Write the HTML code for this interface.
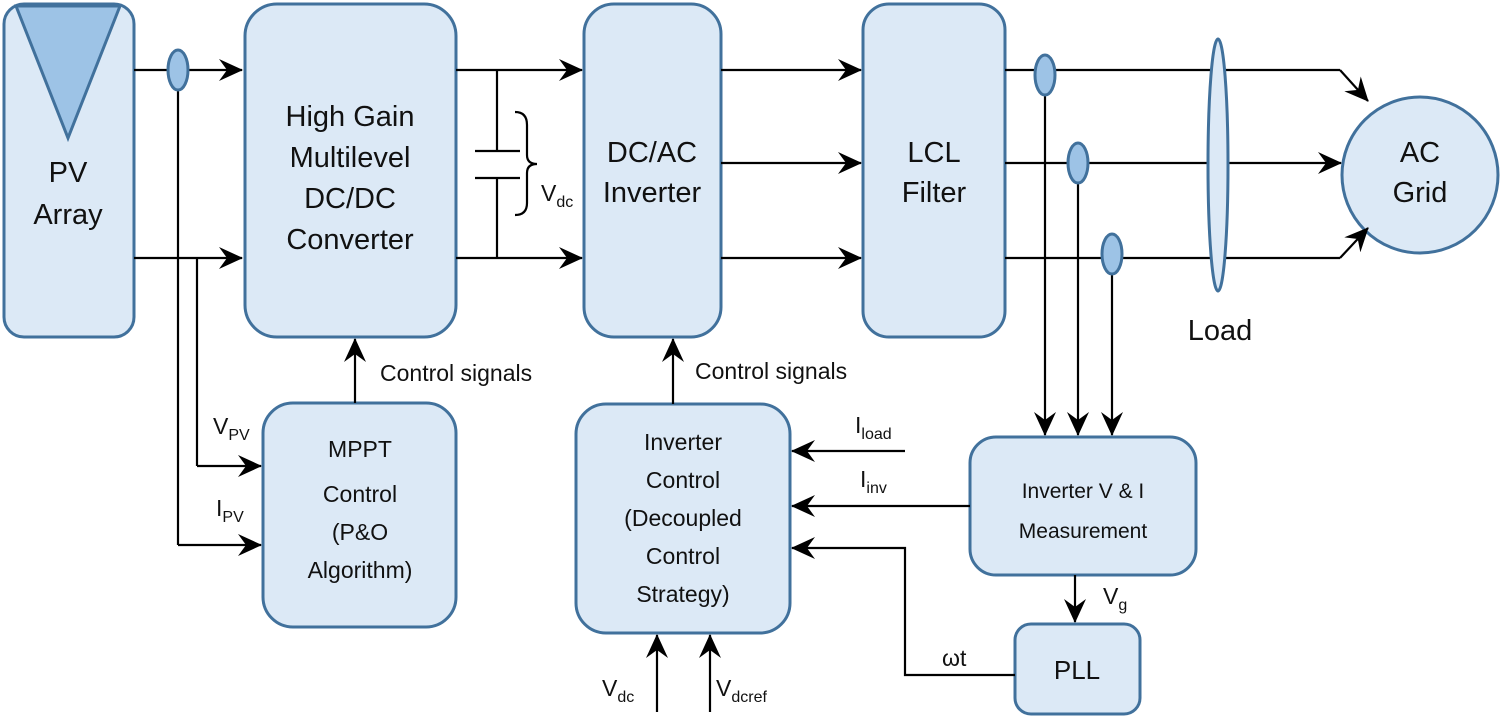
<!DOCTYPE html>
<html><head><meta charset="utf-8"><style>
html,body{margin:0;padding:0;background:#fff}
svg{display:block}
text{font-family:"Liberation Sans",sans-serif;fill:#111}
</style></head><body>
<svg width="1500" height="724" viewBox="0 0 1500 724" xmlns="http://www.w3.org/2000/svg">
<defs>
<marker id="a" viewBox="0 0 24 22" refX="23" refY="11" markerWidth="24" markerHeight="22" markerUnits="userSpaceOnUse" orient="auto">
<path d="M0,0 L24,11 L0,22 L8,11 Z" fill="#000"/>
</marker>
</defs>
<g fill="#dce9f6" stroke="#41719c" stroke-width="3">
<rect x="4" y="4" width="130" height="333" rx="20"/>
<rect x="245" y="4" width="211" height="333" rx="32"/>
<rect x="584" y="4" width="137" height="333" rx="30"/>
<rect x="863" y="4" width="142" height="333" rx="26"/>
<circle cx="1420" cy="175" r="78"/>
<rect x="263" y="403" width="193" height="224" rx="30"/>
<rect x="576" y="404" width="214" height="229" rx="30"/>
<rect x="970" y="437" width="226" height="138" rx="26"/>
<rect x="1015" y="624" width="125" height="90" rx="16"/>
</g>
<path d="M16,6 L120,6 L68,138 Z" fill="#9dc3e6" stroke="#41719c" stroke-width="3"/>
<g stroke="#000" stroke-width="2.2" fill="none">
<line x1="134" y1="70" x2="242" y2="70" marker-end="url(#a)"/>
<line x1="134" y1="258" x2="242" y2="258" marker-end="url(#a)"/>
<line x1="178" y1="70" x2="178" y2="545"/>
<line x1="178" y1="545" x2="261" y2="545" marker-end="url(#a)"/>
<line x1="197" y1="258" x2="197" y2="466"/>
<line x1="197" y1="466" x2="261" y2="466" marker-end="url(#a)"/>
<line x1="355" y1="403" x2="355" y2="339" marker-end="url(#a)"/>
<line x1="456" y1="70" x2="582" y2="70" marker-end="url(#a)"/>
<line x1="456" y1="258" x2="582" y2="258" marker-end="url(#a)"/>
<line x1="497" y1="70" x2="497" y2="151"/>
<line x1="497" y1="178" x2="497" y2="258"/>
<line x1="475" y1="151" x2="520" y2="151"/>
<line x1="475" y1="178" x2="520" y2="178"/>
<path d="M515,112 Q527,112 527,125 L527,155 Q527,164 537,164 Q527,164 527,173 L527,203 Q527,215 515,215"/>
<line x1="721" y1="70" x2="861" y2="70" marker-end="url(#a)"/>
<line x1="721" y1="163" x2="861" y2="163" marker-end="url(#a)"/>
<line x1="721" y1="258" x2="861" y2="258" marker-end="url(#a)"/>
<line x1="673" y1="404" x2="673" y2="339" marker-end="url(#a)"/>
<line x1="1005" y1="70" x2="1340" y2="70"/>
<line x1="1340" y1="70" x2="1368" y2="101" marker-end="url(#a)"/>
<line x1="1005" y1="163" x2="1341" y2="163" marker-end="url(#a)"/>
<line x1="1005" y1="258" x2="1340" y2="258"/>
<line x1="1340" y1="258" x2="1368" y2="228" marker-end="url(#a)"/>
<line x1="1045" y1="70" x2="1045" y2="435" marker-end="url(#a)"/>
<line x1="1078" y1="163" x2="1078" y2="435" marker-end="url(#a)"/>
<line x1="1112" y1="258" x2="1112" y2="435" marker-end="url(#a)"/>
<line x1="905" y1="451" x2="792" y2="451" marker-end="url(#a)"/>
<line x1="970" y1="506" x2="792" y2="506" marker-end="url(#a)"/>
<polyline points="1015,675 905,675 905,548 792,548" marker-end="url(#a)"/>
<line x1="1075" y1="575" x2="1075" y2="622" marker-end="url(#a)"/>
<line x1="657" y1="712" x2="657" y2="635" marker-end="url(#a)"/>
<line x1="710" y1="712" x2="710" y2="635" marker-end="url(#a)"/>
</g>
<g fill="#9dc3e6" stroke="#41719c" stroke-width="3">
<ellipse cx="178" cy="70" rx="10" ry="20"/>
<ellipse cx="1045" cy="75" rx="10" ry="20"/>
<ellipse cx="1078" cy="163" rx="10" ry="20"/>
<ellipse cx="1112" cy="254" rx="10" ry="20"/>
</g>
<ellipse cx="1218" cy="165" rx="10" ry="126" fill="#dce9f6" stroke="#41719c" stroke-width="3"/>
<g font-size="29" text-anchor="middle">
<text x="68" y="182">PV</text><text x="68" y="224">Array</text>
<text x="350" y="126">High Gain</text><text x="350" y="167">Multilevel</text><text x="350" y="208">DC/DC</text><text x="350" y="249">Converter</text>
<text x="652" y="162">DC/AC</text><text x="652" y="202">Inverter</text>
<text x="934" y="162">LCL</text><text x="934" y="202">Filter</text>
<text x="1420" y="162">AC</text><text x="1420" y="202">Grid</text>
<text x="1220" y="340">Load</text>
</g>
<g font-size="23" text-anchor="middle">
<text x="360" y="457">MPPT</text><text x="360" y="502">Control</text><text x="360" y="540">(P&amp;O</text><text x="360" y="578">Algorithm)</text>
<text x="683" y="450">Inverter</text><text x="683" y="488">Control</text><text x="683" y="526">(Decoupled</text><text x="683" y="564">Control</text><text x="683" y="602">Strategy)</text>
</g>
<g font-size="21" text-anchor="middle">
<text x="1083" y="498">Inverter V &amp; I</text><text x="1083" y="538">Measurement</text>
<text x="1077" y="679" font-size="26">PLL</text>
</g>
<g font-size="23">
<text x="380" y="381">Control signals</text>
<text x="695" y="379">Control signals</text>
<text x="213" y="434">V<tspan font-size="16" dy="6">PV</tspan></text>
<text x="216" y="516">I<tspan font-size="16" dy="6">PV</tspan></text>
<text x="541" y="201">V<tspan font-size="16" dy="6">dc</tspan></text>
<text x="855" y="433">I<tspan font-size="16" dy="6">load</tspan></text>
<text x="860" y="487">I<tspan font-size="16" dy="6">inv</tspan></text>
<text x="1103" y="604">V<tspan font-size="16" dy="6">g</tspan></text>
<text x="942" y="666">ωt</text>
<text x="602" y="696">V<tspan font-size="16" dy="6">dc</tspan></text>
<text x="716" y="696">V<tspan font-size="16" dy="6">dcref</tspan></text>
</g>
</svg>
</body></html>
